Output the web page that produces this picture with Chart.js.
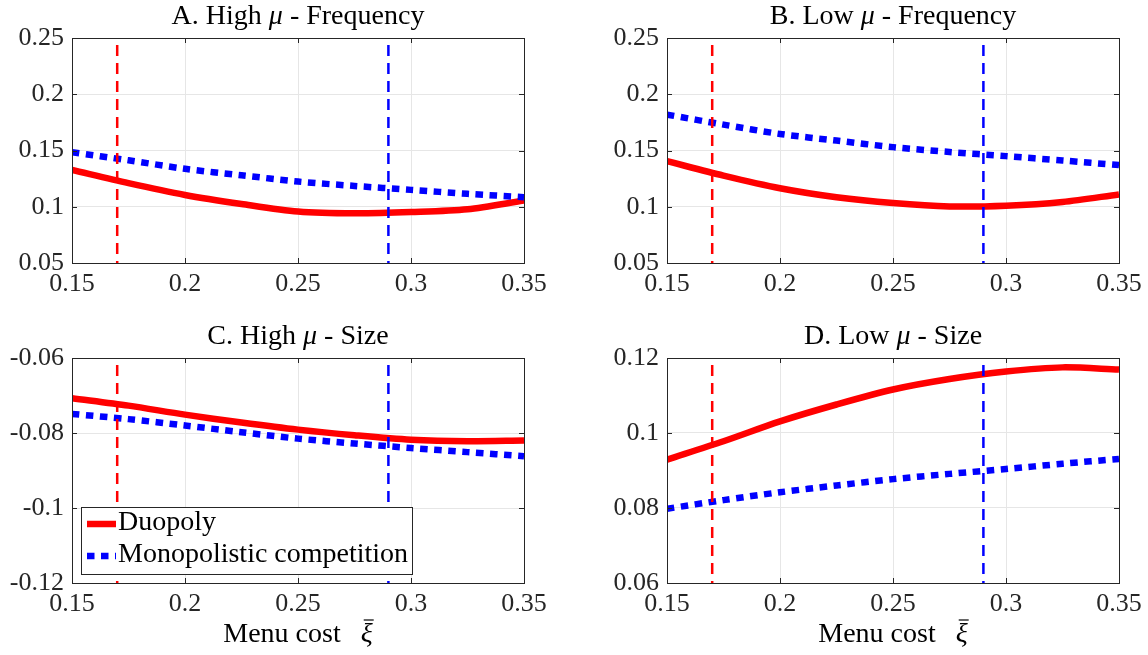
<!DOCTYPE html>
<html lang="en">
<head>
    <meta charset="utf-8">
    <title>Menu cost - frequency and size</title>
    <style>
        body {
            margin: 0;
            background: #ffffff;
        }

        .panel {
            position: absolute;
        }
    </style>
</head>
<body>

<div class="panel" style="left:0;top:0;"><canvas id="panelA" width="574" height="320"></canvas></div>
<div class="panel" style="left:574px;top:0;"><canvas id="panelB" width="574" height="320"></canvas></div>
<div class="panel" style="left:0;top:320px;"><canvas id="panelC" width="574" height="335"></canvas></div>
<div class="panel" style="left:574px;top:320px;"><canvas id="panelD" width="574" height="335"></canvas></div>

<script src="https://cdn.jsdelivr.net/npm/chart.js"></script>
<script>
    // menu cost grid (x axis)
    const menuCost = [0.15, 0.175, 0.2, 0.225, 0.25, 0.275, 0.3, 0.325, 0.35];

    // A. High mu - Frequency
    const duoHighFreq = [0.1328, 0.1210, 0.1105, 0.1025, 0.0958, 0.0942, 0.0953, 0.0978, 0.1055];
    const monoHighFreq = [0.1485, 0.1413, 0.1337, 0.1280, 0.1224, 0.1185, 0.1150, 0.1115, 0.1085];

    // B. Low mu - Frequency
    const duoLowFreq = [0.1405, 0.1277, 0.1165, 0.1085, 0.1033, 0.1003, 0.1009, 0.1042, 0.1110];
    const monoLowFreq = [0.1819, 0.1730, 0.1647, 0.1588, 0.1530, 0.1487, 0.1450, 0.1411, 0.1370];

    // C. High mu - Size
    const duoHighSize = [-0.0707, -0.0727, -0.0751, -0.0772, -0.0791, -0.0806, -0.0818, -0.0822, -0.0820];
    const monoHighSize = [-0.0749, -0.0763, -0.0780, -0.0798, -0.0815, -0.0828, -0.0840, -0.0851, -0.0862];

    // D. Low mu - Size
    const duoLowSize = [0.0929, 0.0978, 0.1031, 0.1076, 0.1116, 0.1144, 0.1164, 0.1175, 0.1169];
    const monoLowSize = [0.0798, 0.0821, 0.0842, 0.0860, 0.0877, 0.0891, 0.0904, 0.0918, 0.0931];

    // calibrated menu costs (vertical dashed lines)
    const duoMenuCost = 0.17;
    const monoMenuCost = 0.29;

    // x tick labels
    const xTicks = [0.15, 0.2, 0.25, 0.3, 0.35];

    const FONT = "'Liberation Serif', 'Times New Roman', serif";
    const RED = '#ff0000';
    const BLUE = '#0000ff';
    const AXIS = '#262626';

    // draw text pieces, some of them italic, centred on cx
    function drawRich(ctx, parts, cx, baseline, size) {
        let total = 0;
        parts.forEach(p => {
            ctx.font = (p.italic ? 'italic ' : '') + size + 'px ' + FONT;
            p.w = ctx.measureText(p.text).width;
            total += p.w + (p.gap || 0);
        });
        let x = cx - total / 2;
        ctx.textAlign = 'left';
        ctx.textBaseline = 'alphabetic';
        parts.forEach(p => {
            x += (p.gap || 0);
            ctx.font = (p.italic ? 'italic ' : '') + size + 'px ' + FONT;
            ctx.fillText(p.text, x, baseline);
            if (p.bar) {
                ctx.save();
                ctx.strokeStyle = ctx.fillStyle;
                ctx.lineWidth = 1.2;
                ctx.beginPath();
                ctx.moveTo(x + 3, baseline - 22);
                ctx.lineTo(x + p.w + 1, baseline - 22);
                ctx.stroke();
                ctx.restore();
            }
            x += p.w;
        });
    }

    // MATLAB-like box, inward ticks, titles and the legend
    const matlabFrame = {
        id: 'matlabFrame',
        afterDraw(chart, args, opts) {
            const {ctx, chartArea: a, scales: {x, y}} = chart;
            ctx.save();
            ctx.strokeStyle = AXIS;
            ctx.lineWidth = 1;
            ctx.beginPath();
            x.ticks.forEach(t => {
                const px = Math.round(x.getPixelForValue(t.value)) + 0.5;
                ctx.moveTo(px, a.bottom);
                ctx.lineTo(px, a.bottom - 5);
                ctx.moveTo(px, a.top);
                ctx.lineTo(px, a.top + 5);
            });
            y.ticks.forEach(t => {
                const py = Math.round(y.getPixelForValue(t.value)) + 0.5;
                ctx.moveTo(a.left, py);
                ctx.lineTo(a.left + 5, py);
                ctx.moveTo(a.right, py);
                ctx.lineTo(a.right - 5, py);
            });
            ctx.stroke();
            ctx.strokeRect(a.left + 0.5, a.top + 0.5, a.right - a.left, a.bottom - a.top);

            const cx = (a.left + a.right) / 2;
            ctx.fillStyle = '#000000';
            drawRich(ctx, [
                {text: opts.letter + ' ' + opts.level + ' '},
                {text: 'μ', italic: true},
                {text: ' - ' + opts.measure}
            ], cx, a.top - 14, 28);

            if (opts.xTitle) {
                drawRich(ctx, [
                    {text: 'Menu cost'},
                    {text: 'ξ', italic: true, gap: 20, bar: true}
                ], cx, a.bottom + 59, 28);
            }

            if (opts.legend) {
                const lx = a.left + 9, ly = a.top + 149, lw = 331, lh = 67;
                ctx.fillStyle = '#ffffff';
                ctx.fillRect(lx, ly, lw, lh);
                ctx.strokeStyle = AXIS;
                ctx.lineWidth = 1;
                ctx.strokeRect(lx + 0.5, ly + 0.5, lw, lh);
                const rows = chart.data.datasets.filter(d => d.inLegend);
                rows.forEach((d, i) => {
                    const ry = ly + 17 + i * 32;
                    ctx.strokeStyle = d.borderColor;
                    ctx.lineWidth = d.borderWidth;
                    ctx.setLineDash(d.borderDash || []);
                    ctx.beginPath();
                    ctx.moveTo(lx + 6, ry);
                    ctx.lineTo(lx + 35, ry);
                    ctx.stroke();
                    ctx.setLineDash([]);
                    ctx.fillStyle = '#000000';
                    ctx.font = '28px ' + FONT;
                    ctx.textAlign = 'left';
                    ctx.textBaseline = 'middle';
                    ctx.fillText(d.label, lx + 37, ry - 1);
                });
            }
            ctx.restore();
        }
    };

    function toPoints(values) {
        return values.map((v, i) => ({x: menuCost[i], y: v}));
    }

    function makePanel(canvasId, cfg) {
        const canvas = document.getElementById(canvasId);
        const W = canvas.width, H = canvas.height;
        return new Chart(canvas, {
            type: 'line',
            data: {
                datasets: [
                    {
                        label: 'Duopoly',
                        inLegend: true,
                        data: toPoints(cfg.duo),
                        borderColor: RED,
                        borderWidth: 6.5,
                        tension: 0.3,
                        pointRadius: 0,
                        order: 2
                    },
                    {
                        label: 'Monopolistic competition',
                        inLegend: true,
                        data: toPoints(cfg.mono),
                        borderColor: BLUE,
                        borderWidth: 6.5,
                        borderDash: [7.5, 6.5],
                        borderCapStyle: 'butt',
                        tension: 0.3,
                        pointRadius: 0,
                        order: 1
                    },
                    {
                        label: 'Duopoly calibration',
                        data: [{x: duoMenuCost, y: cfg.yMax}, {x: duoMenuCost, y: cfg.yMin}],
                        borderColor: RED,
                        borderWidth: 2.5,
                        borderDash: [11, 7],
                        borderDashOffset: 11,
                        pointRadius: 0,
                        order: 0
                    },
                    {
                        label: 'Monopolistic calibration',
                        data: [{x: monoMenuCost, y: cfg.yMax}, {x: monoMenuCost, y: cfg.yMin}],
                        borderColor: BLUE,
                        borderWidth: 2.5,
                        borderDash: [11, 7],
                        borderDashOffset: 11,
                        pointRadius: 0,
                        order: 0
                    }
                ]
            },
            options: {
                responsive: false,
                animation: false,
                events: [],
                clip: 0,
                layout: {
                    padding: {top: 38, right: W - cfg.left - 452, left: 0, bottom: 0}
                },
                scales: {
                    x: {
                        type: 'linear',
                        min: 0.15,
                        max: 0.35,
                        afterFit: s => { s.height = H - 263; },
                        afterBuildTicks: s => { s.ticks = xTicks.map(v => ({value: v})); },
                        grid: {color: '#e6e6e6', drawTicks: false},
                        border: {display: false},
                        ticks: {
                            padding: 6,
                            color: AXIS,
                            font: {family: FONT, size: 26},
                            maxRotation: 0,
                            callback: v => String(+v.toFixed(3))
                        }
                    },
                    y: {
                        min: cfg.yMin,
                        max: cfg.yMax,
                        afterFit: s => { s.width = cfg.left; },
                        afterBuildTicks: s => { s.ticks = cfg.yTicks.map(v => ({value: v})); },
                        grid: {color: '#e6e6e6', drawTicks: false},
                        border: {display: false},
                        ticks: {
                            padding: 8,
                            color: AXIS,
                            font: {family: FONT, size: 26},
                            callback: v => String(+v.toFixed(3))
                        }
                    }
                },
                plugins: {
                    legend: {display: false},
                    tooltip: {enabled: false},
                    matlabFrame: cfg.frame
                }
            },
            plugins: [matlabFrame]
        });
    }

    makePanel('panelA', {
        left: 72, yMin: 0.05, yMax: 0.25, yTicks: [0.05, 0.1, 0.15, 0.2, 0.25],
        duo: duoHighFreq, mono: monoHighFreq,
        frame: {letter: 'A.', level: 'High', measure: 'Frequency'}
    });
    makePanel('panelB', {
        left: 93, yMin: 0.05, yMax: 0.25, yTicks: [0.05, 0.1, 0.15, 0.2, 0.25],
        duo: duoLowFreq, mono: monoLowFreq,
        frame: {letter: 'B.', level: 'Low', measure: 'Frequency'}
    });
    makePanel('panelC', {
        left: 72, yMin: -0.12, yMax: -0.06, yTicks: [-0.12, -0.1, -0.08, -0.06],
        duo: duoHighSize, mono: monoHighSize,
        frame: {letter: 'C.', level: 'High', measure: 'Size', xTitle: true, legend: true}
    });
    makePanel('panelD', {
        left: 93, yMin: 0.06, yMax: 0.12, yTicks: [0.06, 0.08, 0.1, 0.12],
        duo: duoLowSize, mono: monoLowSize,
        frame: {letter: 'D.', level: 'Low', measure: 'Size', xTitle: true}
    });
</script>
</body>
</html>
